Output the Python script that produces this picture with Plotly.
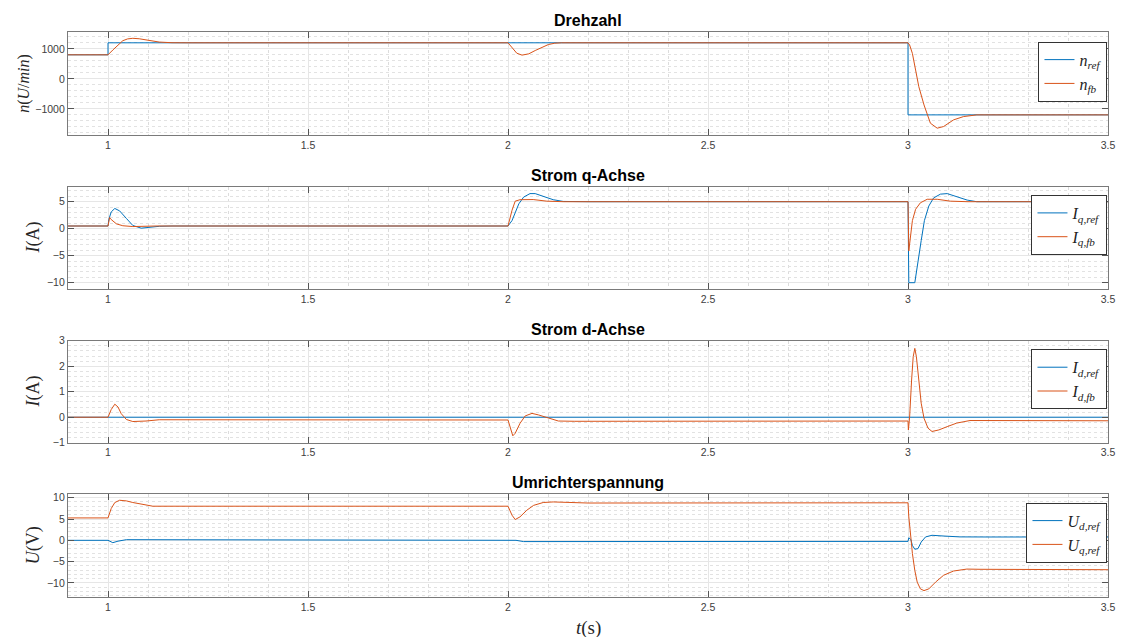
import plotly.graph_objects as go

# ---------------- data ----------------
# Drehzahl
t_n_ref = [0.9, 1.0, 1.0, 3.0, 3.0, 3.5]
n_ref = [800, 800, 1200, 1200, -1200, -1200]
t_n_fb = [0.9, 1.0, 1.012, 1.025, 1.037, 1.049, 1.062, 1.078, 1.103, 1.128, 1.16, 1.2,
          2.0, 2.01, 2.022, 2.035, 2.052, 2.068, 2.084, 2.101, 2.117, 2.134, 2.2,
          3.0, 3.004, 3.011, 3.019, 3.027, 3.040, 3.048, 3.056, 3.073, 3.089, 3.114, 3.139, 3.172, 3.5]
n_fb = [800, 800, 960, 1130, 1270, 1330, 1350, 1335, 1280, 1225, 1203, 1200,
        1200, 1053, 853, 790, 833, 943, 1053, 1143, 1187, 1200, 1200,
        1200, 1130, 846, 293, -260, -869, -1200, -1477, -1643, -1588, -1366, -1256, -1200, -1200]

# Strom q-Achse
t_iq_ref = [0.9, 1.0, 1.002, 1.008, 1.017, 1.029, 1.046, 1.062, 1.083, 1.104, 1.129, 1.16,
            2.0, 2.01, 2.018, 2.027, 2.039, 2.055, 2.068, 2.088, 2.113, 2.138, 2.2,
            3.0, 3.002, 3.017, 3.025, 3.033, 3.041, 3.052, 3.064, 3.081, 3.098, 3.123, 3.148, 3.172, 3.5]
iq_ref = [0.5, 0.5, 1.7, 3.1, 3.75, 3.3, 1.9, 0.6, 0.1, 0.25, 0.45, 0.5,
          0.5, 1.5, 3.1, 4.6, 5.85, 6.5, 6.5, 6.0, 5.37, 5.05, 5.0,
          5.0, -10.0, -10.0, -6.5, -2.2, 1.5, 4.2, 5.7, 6.4, 6.5, 5.9, 5.3, 5.0, 5.0]
t_iq_fb = [0.9, 1.0, 1.004, 1.008, 1.021, 1.037, 1.062, 1.09, 1.12,
           2.0, 2.01, 2.018, 2.030, 2.063, 2.097, 2.14,
           3.0, 3.002, 3.007, 3.011, 3.019, 3.031, 3.048, 3.073, 3.106, 3.15, 3.5]
iq_fb = [0.5, 0.5, 2.06, 1.7, 0.9, 0.55, 0.4, 0.45, 0.5,
         0.5, 3.4, 5.1, 5.37, 5.4, 5.1, 5.0,
         5.0, -4.1, -1.0, 1.5, 3.6, 4.8, 5.45, 5.45, 5.1, 5.0, 5.0]

# Strom d-Achse
t_id_ref = [0.9, 3.5]
id_ref = [0.0, 0.0]
t_id_fb = [0.9, 1.0, 1.008, 1.017, 1.025, 1.033, 1.046, 1.062, 1.095, 1.128,
           2.0, 2.006, 2.012, 2.018, 2.030, 2.043, 2.06, 2.076, 2.101, 2.126, 2.167,
           3.0, 3.001, 3.004, 3.009, 3.013, 3.017, 3.021, 3.027, 3.033, 3.04, 3.05, 3.06, 3.077, 3.098, 3.122, 3.155, 3.5]
id_fb = [0.0, 0.0, 0.3, 0.51, 0.4, 0.14, -0.09, -0.17, -0.15, -0.1,
         -0.11, -0.43, -0.73, -0.63, -0.24, 0.05, 0.15, 0.09, -0.04, -0.15, -0.16,
         -0.15, -0.5, 0.0, 1.46, 2.37, 2.7, 2.37, 1.46, 0.55, -0.04, -0.43, -0.56, -0.5, -0.37, -0.23, -0.13, -0.14]

# Umrichterspannung
t_ud = [0.9, 1.0, 1.012, 1.025, 1.046,
        2.0, 2.02, 2.039, 2.06,
        3.0, 3.002, 3.007, 3.011, 3.017, 3.025, 3.033, 3.044, 3.06, 3.09, 3.13, 3.2, 3.5]
ud_ref = [0.0, 0.0, -0.55, -0.2, 0.15,
          0.15, 0.0, -0.3, -0.3,
          -0.25, 0.6, 0.2, -1.2, -2.1, -1.95, -0.4, 0.8, 1.18, 1.0, 0.8, 0.78, 0.78]
t_uq = [0.9, 1.0, 1.008, 1.017, 1.029, 1.046, 1.062, 1.087, 1.112, 1.2,
        2.0, 2.01, 2.018, 2.030, 2.047, 2.064, 2.088, 2.113, 2.2,
        3.0, 3.002, 3.007, 3.011, 3.017, 3.023, 3.031, 3.040, 3.052, 3.069, 3.089, 3.114, 3.147, 3.18, 3.5]
uq_ref = [5.25, 5.25, 7.45, 8.86, 9.4, 9.25, 8.87, 8.4, 8.0, 8.0,
          8.0, 5.9, 4.87, 5.5, 7.06, 8.2, 8.87, 9.0, 8.75,
          8.8, 5.5, 0.8, -3.1, -7.06, -9.8, -11.4, -11.8, -11.4, -9.8, -8.2, -7.2, -6.75, -6.8, -6.9]

titles = ["Drehzahl", "Strom q-Achse", "Strom d-Achse", "Umrichterspannung"]
ylabels = ["<i>n</i>(<i>U</i>/<i>min</i>)", "<i>I</i>(A)", "<i>I</i>(A)", "<i>U</i>(V)"]
legend_names = [
    ["<i>n<sub>ref</sub></i>", "<i>n<sub>fb</sub></i>"],
    ["<i>I<sub>q,ref</sub></i>", "<i>I<sub>q,fb</sub></i>"],
    ["<i>I<sub>d,ref</sub></i>", "<i>I<sub>d,fb</sub></i>"],
    ["<i>U<sub>d,ref</sub></i>", "<i>U<sub>q,ref</sub></i>"],
]
x_ticks = [1, 1.5, 2, 2.5, 3, 3.5]
x_range = [0.9, 3.5]

# ---------------- styling / layout ----------------
BLUE = "#0072BD"
ORANGE = "#D95319"
SERIF = "Liberation Serif, DejaVu Serif, serif"
SANS = "Liberation Sans, Arial, sans-serif"

domains = [[0.8177, 1.0], [0.5451, 0.7262], [0.2731, 0.4536], [0.0, 0.1818]]
y_ranges = [[-1870, 1560], [-11.17, 7.78], [-1, 3], [-13.3, 10.8]]
y_dticks = [1000, 5, 1, 5]
y_minor = [200, 1, 0.2, 1]
legend_tops = [0.9828, 0.7115, 0.4384, 0.1669]
ylabel_x = [-0.042, -0.033, -0.033, -0.033]
ylabel_size = [16, 18, 18, 18]

series = [
    ((t_n_ref, n_ref), (t_n_fb, n_fb)),
    ((t_iq_ref, iq_ref), (t_iq_fb, iq_fb)),
    ((t_id_ref, id_ref), (t_id_fb, id_fb)),
    ((t_ud, ud_ref), (t_uq, uq_ref)),
]

fig = go.Figure()
layout = dict(
    width=1126, height=637,
    margin=dict(l=68, r=11, t=32, b=40),
    paper_bgcolor="white", plot_bgcolor="white",
    showlegend=True,
    annotations=[],
)

for i in range(4):
    k = i + 1
    xa = "x" if k == 1 else f"x{k}"
    ya = "y" if k == 1 else f"y{k}"
    lg = "legend" if k == 1 else f"legend{k}"
    (ta, va), (tb, vb) = series[i]
    fig.add_trace(go.Scatter(x=ta, y=va, mode="lines", name=legend_names[i][0],
                             line=dict(color=BLUE, width=1), xaxis=xa, yaxis=ya, legend=lg))
    fig.add_trace(go.Scatter(x=tb, y=vb, mode="lines", name=legend_names[i][1],
                             line=dict(color=ORANGE, width=1), xaxis=xa, yaxis=ya, legend=lg))

    axis_common = dict(
        showline=True, linecolor="#7a7a7a", linewidth=1.2, mirror="ticks",
        ticks="inside", ticklen=6, tickcolor="#555555", tickwidth=1,
        showgrid=True, gridcolor="#e6e6e6", gridwidth=1,
        zeroline=False,
        tickfont=dict(family=SANS, size=10.5, color="#404040"),
    )
    layout["xaxis" if k == 1 else f"xaxis{k}"] = dict(
        axis_common, domain=[0, 1], anchor=ya, range=x_range,
        tickmode="array", tickvals=x_ticks, ticktext=[str(v) for v in x_ticks],
        minor=dict(dtick=0.1, tick0=1.0, showgrid=True, gridcolor="#dcdcdc",
                   griddash="dot", gridwidth=1, ticks=""),
    )
    layout["yaxis" if k == 1 else f"yaxis{k}"] = dict(
        axis_common, domain=domains[i], anchor=xa, range=y_ranges[i],
        dtick=y_dticks[i], tick0=0,
        minor=dict(dtick=y_minor[i], tick0=0, showgrid=True, gridcolor="#e2e2e2",
                   griddash="dot", gridwidth=1, ticks=""),
    )
    layout[lg] = dict(
        x=0.9995, xanchor="right", y=legend_tops[i], yanchor="top",
        xref="paper", yref="paper",
        bgcolor="white", bordercolor="#333333", borderwidth=1,
        font=dict(family=SERIF, size=16, color="#222222"),
        tracegroupgap=0, itemwidth=30,
    )
    # subplot titles
    layout["annotations"].append(dict(
        text=f"<b>{titles[i]}</b>", x=0.5, y=domains[i][1], xref="paper", yref="paper",
        xanchor="center", yanchor="bottom", yshift=1, showarrow=False,
        font=dict(family=SANS, size=16, color="#000000"),
    ))
    # y labels
    layout["annotations"].append(dict(
        text=ylabels[i], x=ylabel_x[i], y=(domains[i][0] + domains[i][1]) / 2,
        xref="paper", yref="paper", xanchor="center", yanchor="middle",
        textangle=-90, showarrow=False,
        font=dict(family=SERIF, size=ylabel_size[i], color="#262626"),
    ))

layout["annotations"].append(dict(
    text="<i>t</i>(s)", x=0.5, y=-0.054, xref="paper", yref="paper",
    xanchor="center", yanchor="middle", showarrow=False,
    font=dict(family=SERIF, size=19, color="#262626"),
))

fig.update_layout(**layout)
fig.write_html("out.html")
